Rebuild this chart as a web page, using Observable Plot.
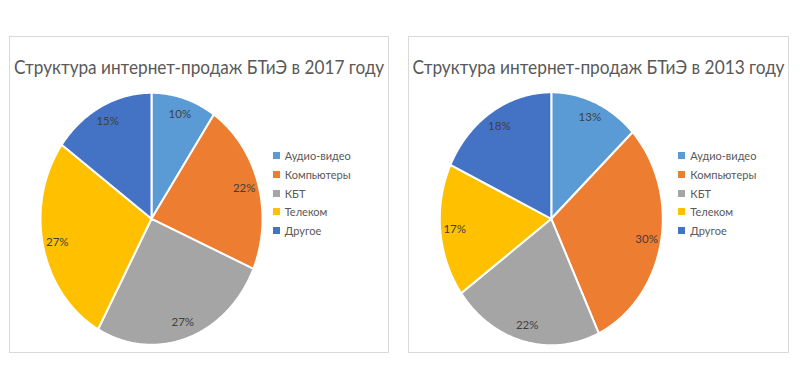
<!DOCTYPE html>
<html><head><meta charset="utf-8">
<script src="https://cdn.jsdelivr.net/npm/d3@7"></script>
<script src="https://cdn.jsdelivr.net/npm/@observablehq/plot@0.6"></script>
<style>
body{margin:0;background:#fff;font-family:Lato,sans-serif;}
#wrap{position:relative;width:800px;height:389px;overflow:hidden;}
.box{position:absolute;top:36px;height:317px;border:1px solid #d9d9d9;box-sizing:border-box;background:#fff;}
.box svg{position:absolute;left:0;top:0;}
.legend{position:absolute;font-size:11px;color:#595959;}
.legend .row{height:18.75px;display:flex;align-items:center;white-space:nowrap;}
.legend .sw{width:7px;height:7px;margin-right:5px;flex:none;}
</style>
</head><body>
<div id="wrap"></div>
<script>
const categories = ["Аудио-видео", "Компьютеры", "КБТ", "Телеком", "Другое"];
const colors = ["#5B9BD5", "#ED7D31", "#A5A5A5", "#FFC000", "#4472C4"];
const values2017 = [9.5, 22, 26.5, 27, 15];
const values2013 = [13, 30, 22, 17, 18];
const title2017 = "Структура интернет-продаж БТиЭ в 2017 году";
const title2013 = "Структура интернет-продаж БТиЭ в 2013 году";

function makeChart(opts) {
  const {title, values, left, width, cx, cy, rx, ry, legendX, titleX, titleW} = opts;
  const box = document.createElement("div");
  box.className = "box";
  box.style.left = left + "px";
  box.style.width = width + "px";
  document.getElementById("wrap").appendChild(box);
  const total = d3.sum(values);
  const arcs = d3.pie().sort(null).value(d => d.value)(categories.map((c, i) => ({cat: c, value: values[i]})));
  const pts = [];
  const labels = [];
  arcs.forEach(a => {
    const c = a.data.cat;
    pts.push({cat: c, x: 0, y: 0});
    const n = Math.max(2, Math.ceil((a.endAngle - a.startAngle) / 0.01));
    for (let k = 0; k <= n; k++) {
      const t = a.startAngle + (a.endAngle - a.startAngle) * k / n;
      pts.push({cat: c, x: Math.sin(t), y: Math.cos(t)});
    }
    const m = (a.startAngle + a.endAngle) / 2;
    labels.push({cat: c, x: 0.87 * Math.sin(m), y: 0.87 * Math.cos(m), text: Math.round(a.data.value / total * 100) + "%"});
  });
  const w = width - 2, h = 315;
  const svg = Plot.plot({
    width: w, height: h,
    marginTop: 0, marginBottom: 0, marginLeft: 0, marginRight: 0,
    style: {fontFamily: "Lato, sans-serif", background: "transparent", overflow: "visible"},
    x: {domain: [-1, 1], range: [cx - rx, cx + rx], axis: null},
    y: {domain: [-1, 1], range: [cy + ry, cy - ry], axis: null},
    color: {domain: categories, range: colors},
    marks: [
      Plot.line(pts, {x: "x", y: "y", z: "cat", fill: "cat", stroke: "white", strokeWidth: 2, curve: "linear-closed", strokeLinejoin: "round"}),
      Plot.text(labels, {x: "x", y: "y", text: "text", fill: "#404040", fontSize: 11.5}),
      Plot.text([title], {frameAnchor: "top-left", dx: titleX, dy: 36, fontSize: 20, fill: "#595959", lineAnchor: "bottom", textAnchor: "start", className: "ttl"})
    ]
  });
  const t = svg.querySelector(".ttl text");
  if (t) { t.setAttribute("textLength", titleW); t.setAttribute("lengthAdjust", "spacingAndGlyphs"); }
  box.appendChild(svg);
  const lg = document.createElement("div");
  lg.className = "legend";
  lg.style.left = legendX + "px";
  lg.style.top = (118.7 - 9.4) + "px";
  categories.forEach((c, i) => {
    const r = document.createElement("div");
    r.className = "row";
    r.innerHTML = `<span class="sw" style="background:${colors[i]}"></span><span>${c}</span>`;
    lg.appendChild(r);
  });
  box.appendChild(lg);
}

makeChart({title: title2017, values: values2017, left: 9, width: 380, cx: 141, cy: 181.3, rx: 111, ry: 126, legendX: 262.7, titleX: 3.5, titleW: 370});
makeChart({title: title2013, values: values2013, left: 408, width: 381, cx: 141.8, cy: 181.3, rx: 111.5, ry: 126.5, legendX: 269.3, titleX: 3, titleW: 372});
</script>
</body></html>
